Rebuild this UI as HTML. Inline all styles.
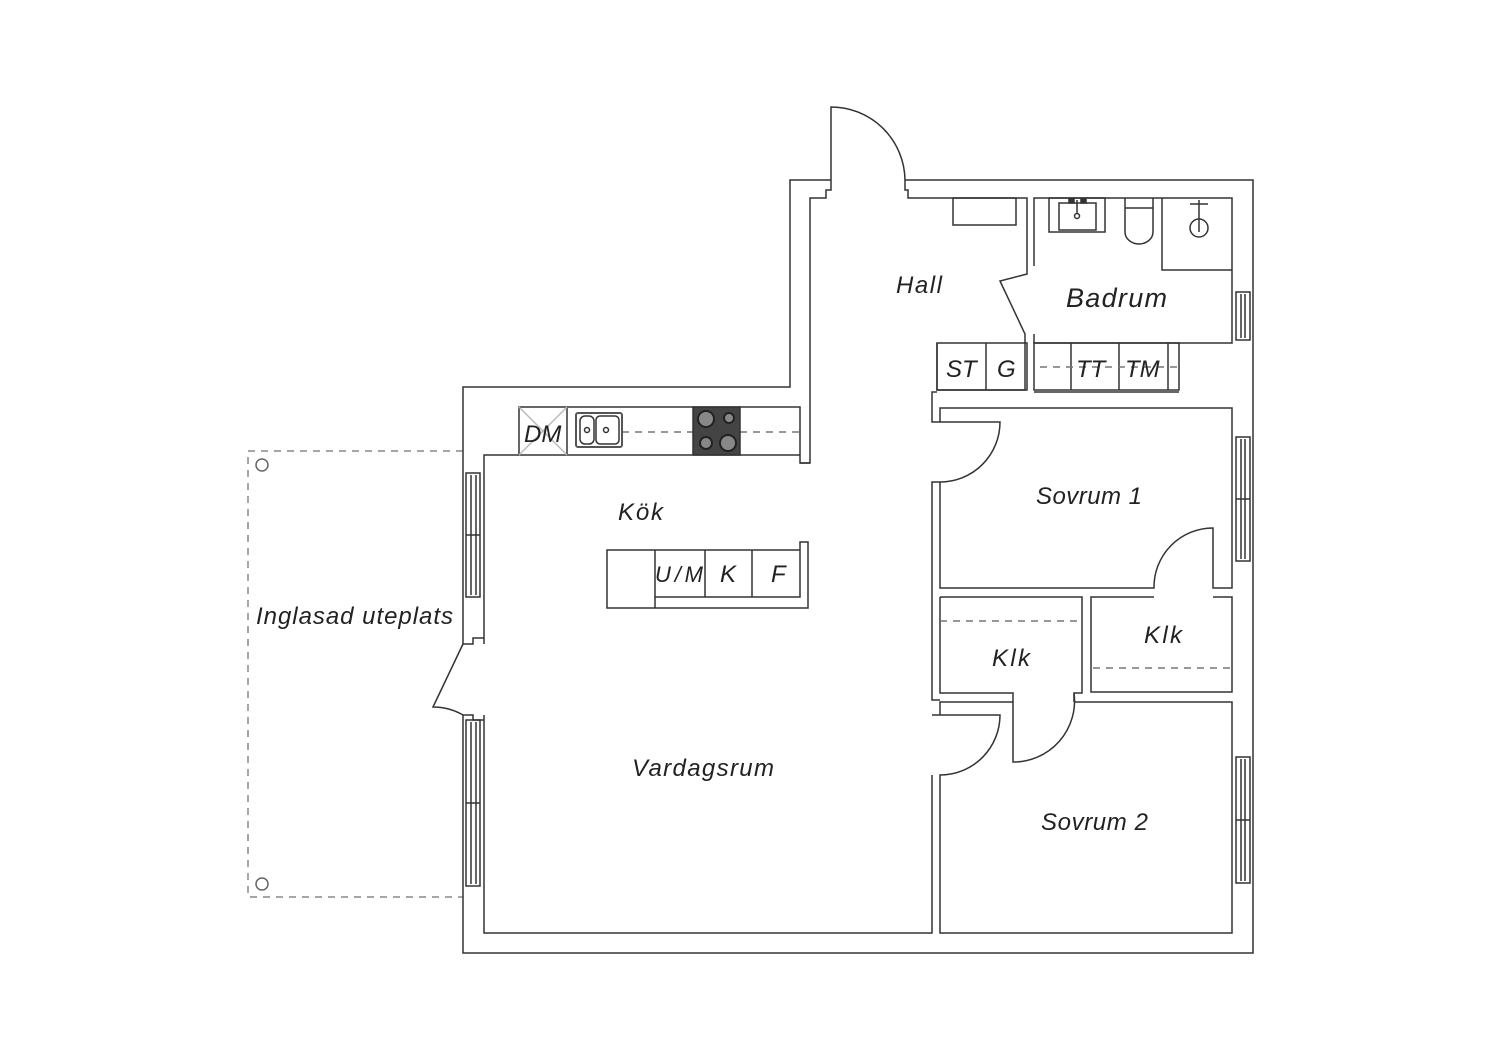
<!DOCTYPE html>
<html><head><meta charset="utf-8"><style>
html,body{margin:0;padding:0;background:#fff;}
svg{display:block;}
text{font-family:"Liberation Sans",sans-serif;font-style:italic;fill:#222;}
</style></head><body>
<svg width="1500" height="1060" viewBox="0 0 1500 1060" xmlns="http://www.w3.org/2000/svg">
<g fill="none" stroke="#333" stroke-width="1.5">
<path d="M463,451 H248 V897 H463" stroke="#888" stroke-dasharray="7,6"/>
<circle cx="262" cy="465" r="6" stroke="#666"/>
<circle cx="262" cy="884" r="6" stroke="#666"/>
<path d="M831,180 H790 V387 H463 V644"/>
<path d="M463,715 V953 H1253 V180 H905"/>
<path d="M831,180 V107 A74,74 0 0 1 905,180"/>
<path d="M831,180 V190 H826 V198 H810 V463 H800"/>
<path d="M905,180 V190 H908 V198 H1027 V274 L1000,281 L1025,334 V390 H937 V343"/>
<rect x="953" y="198" width="63" height="27"/>
<path d="M1034,266 V198 H1232 V343 H1034 V334"/>
<rect x="1049" y="198" width="56" height="34"/>
<rect x="1059" y="203" width="37" height="27"/>
<circle cx="1077" cy="216" r="2.5"/>
<line x1="1077" y1="200" x2="1077" y2="214"/>
<rect x="1069" y="199" width="5" height="4" fill="#333"/><rect x="1081" y="199" width="5" height="4" fill="#333"/>
<path d="M1125,198 V232 A14,12 0 0 0 1153,232 V198"/>
<line x1="1125" y1="208" x2="1153" y2="208"/>
<path d="M1162,198 V270 H1232"/>
<circle cx="1199" cy="228" r="9"/>
<line x1="1199" y1="200" x2="1199" y2="232"/>
<line x1="1190" y1="204" x2="1208" y2="204"/>
<rect x="937" y="343" width="90" height="47"/>
<line x1="986" y1="343" x2="986" y2="390"/>
<rect x="1034" y="343" width="145" height="47"/>
<line x1="1071" y1="343" x2="1071" y2="390"/>
<line x1="1119" y1="343" x2="1119" y2="390"/>
<line x1="1168" y1="343" x2="1168" y2="390"/>
<line x1="1040" y1="367" x2="1179" y2="367" stroke="#777" stroke-dasharray="7,6"/>
<path d="M937,392 H932 V422 H1000 A60,60 0 0 1 940,482 H932 V700 H940"/>
<path d="M1034,392 H1179"/>
<path d="M940,422 V408 H1232 V588 H1213 V528 A59,59 0 0 0 1154,588 H940 V482"/>
<path d="M940,597 H1082 V693 H1074 V702"/>
<path d="M940,597 V693 H1013 V762 A61,61 0 0 0 1074,693"/>
<line x1="940" y1="621" x2="1078" y2="621" stroke="#777" stroke-dasharray="7,6"/>
<path d="M1154,597 H1091 V692 H1232 V597 H1213"/>
<line x1="1093" y1="668" x2="1230" y2="668" stroke="#777" stroke-dasharray="7,6"/>
<path d="M1013,702 H940 V715 H932 M932,715 H1000 A60,60 0 0 1 940,775 V933 H1232 V702 H1074"/>
<path d="M932,775 V933 H484 V715"/>
<path d="M484,644 V455 H519"/>
<path d="M463,644 L433,707 A60,60 0 0 1 463,715"/>
<path d="M463,644 H473 V638 H484 M463,715 H473 V720 H484"/>
<rect x="466" y="473" width="14" height="124"/><line x1="471" y1="475" x2="471" y2="595"/><line x1="476" y1="475" x2="476" y2="595"/><line x1="466" y1="535" x2="480" y2="535"/>
<rect x="466" y="720" width="14" height="166"/><line x1="471" y1="722" x2="471" y2="884"/><line x1="476" y1="722" x2="476" y2="884"/><line x1="466" y1="803" x2="480" y2="803"/>
<rect x="1236" y="292" width="14" height="48"/><line x1="1241" y1="294" x2="1241" y2="338"/><line x1="1245" y1="294" x2="1245" y2="338"/>
<rect x="1236" y="437" width="14" height="124"/><line x1="1241" y1="439" x2="1241" y2="559"/><line x1="1245" y1="439" x2="1245" y2="559"/><line x1="1236" y1="499" x2="1250" y2="499"/>
<rect x="1236" y="757" width="14" height="126"/><line x1="1241" y1="759" x2="1241" y2="881"/><line x1="1245" y1="759" x2="1245" y2="881"/><line x1="1236" y1="820" x2="1250" y2="820"/>
<path d="M519,455 V407 H800 V463 H810"/>
<line x1="519" y1="455" x2="800" y2="455"/>
<line x1="567" y1="407" x2="567" y2="455"/>
<line x1="519" y1="407" x2="567" y2="455" stroke="#bbb"/><line x1="567" y1="407" x2="519" y2="455" stroke="#bbb"/>
<line x1="622" y1="432" x2="693" y2="432" stroke="#777" stroke-dasharray="7,6"/>
<line x1="740" y1="432" x2="800" y2="432" stroke="#777" stroke-dasharray="7,6"/>
<rect x="576" y="413" width="46" height="34" rx="2" stroke="#555" stroke-width="2"/>
<rect x="580" y="416" width="14" height="28" rx="5"/>
<rect x="596" y="416" width="23" height="28" rx="4"/>
<circle cx="587" cy="430" r="2.5"/><circle cx="606" cy="430" r="2.5"/>
<rect x="693" y="407" width="47" height="48" fill="#444"/>
<circle cx="706" cy="419" r="8" fill="#888" stroke="#222" stroke-width="2"/>
<circle cx="729" cy="418" r="5" fill="#888" stroke="#222" stroke-width="2"/>
<circle cx="706" cy="443" r="6" fill="#888" stroke="#222" stroke-width="2"/>
<circle cx="728" cy="443" r="8" fill="#888" stroke="#222" stroke-width="2"/>
<path d="M800,550 H607 V608 H808 V542 H800 V597 H655 V550"/>
<line x1="655" y1="597" x2="655" y2="608"/>
<line x1="705" y1="550" x2="705" y2="597"/>
<line x1="752" y1="550" x2="752" y2="597"/>
</g>
<g font-size="24">
<text x="896" y="293" textLength="46">Hall</text>
<text x="1066" y="307" font-size="27" textLength="101">Badrum</text>
<text x="946" y="377">ST</text>
<text x="997" y="377">G</text>
<text x="1076" y="377">TT</text>
<text x="1125" y="377">TM</text>
<text x="524" y="442">DM</text>
<text x="618" y="520" textLength="45">Kök</text>
<text x="655" y="582" font-size="22" textLength="48">U/M</text>
<text x="720" y="582">K</text>
<text x="771" y="582">F</text>
<text x="1036" y="504" textLength="106">Sovrum 1</text>
<text x="1144" y="643" textLength="38">Klk</text>
<text x="992" y="666" textLength="38">Klk</text>
<text x="256" y="624" textLength="197">Inglasad uteplats</text>
<text x="632" y="776" textLength="142">Vardagsrum</text>
<text x="1041" y="830" textLength="107">Sovrum 2</text>
</g>
</svg>
</body></html>
